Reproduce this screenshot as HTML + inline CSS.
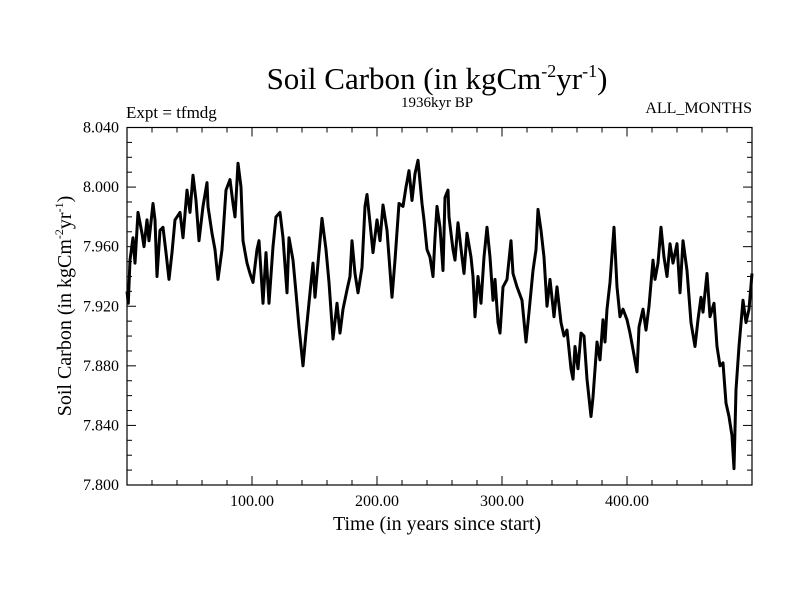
<!DOCTYPE html>
<html><head><meta charset="utf-8"><style>
body{margin:0;background:#fff}
svg text{font-family:"Liberation Serif",serif;fill:#000}
</style></head><body>
<svg id="chart" width="800" height="600" xmlns="http://www.w3.org/2000/svg">
<text x="437" y="89" font-size="31" text-anchor="middle">Soil Carbon (in kgCm<tspan font-size="18" dy="-12">-2</tspan><tspan dy="12">yr</tspan><tspan font-size="18" dy="-12">-1</tspan><tspan dy="12">)</tspan></text>
<text x="126" y="118" font-size="17">Expt = tfmdg</text>
<text x="437" y="107" font-size="15" text-anchor="middle">1936kyr BP</text>
<text x="752" y="113" font-size="16" text-anchor="end">ALL_MONTHS</text>
<text x="437" y="530" font-size="20" text-anchor="middle">Time (in years since start)</text>
<text transform="translate(71,306) rotate(-90)" font-size="20" text-anchor="middle">Soil Carbon (in kgCm<tspan font-size="12" dy="-8">-2</tspan><tspan dy="8">yr</tspan><tspan font-size="12" dy="-8">-1</tspan><tspan dy="8">)</tspan></text>
<g id="axes"></g>
<path id="series" fill="none" stroke="#000" stroke-width="3" stroke-linejoin="round"/>
<rect x="127" y="127.5" width="625" height="357.5" fill="none" stroke="#000" stroke-width="1.2"/>
</svg>
<script>
const years=[0,1,2.4,4.8,6.4,8.8,12,13.6,16,17.6,20.8,22.4,24,26.4,28.8,31.2,33.6,36,38.4,42.4,44.8,48,50.4,52.8,55.2,57.6,60.8,64,64.8,68,70.4,72.8,76,79.2,82.4,84.8,86.4,88.8,91.2,92.8,96,98.4,100.8,104,105.6,108.8,111.2,113.6,116.8,119.2,122.4,124.8,128,129.6,132.8,135.2,137.6,140.8,143.2,146.4,148.8,150.4,152.8,156,159.2,161.6,164.8,168,170.4,172.8,176,178.4,180,182.4,184.8,188,190.4,192,194.4,196.8,200,202.4,204.8,208,212,214.4,217.6,220.8,223.2,225.6,228,230.4,232.8,236,237.6,240,242.4,244.8,246.4,248,250.4,252.8,254.4,256.8,257.6,260.8,262.4,264.8,268,269.6,272,275.2,276.8,278.4,280.8,283.2,285.6,288,290.4,292.8,294.4,296.8,298.4,300.8,304,307.2,308.8,312,316,319.2,321.6,324.8,327.2,328.8,331.2,333.6,336,338.4,341.6,344,347.2,349.6,352,355.2,356.8,358.4,360.8,363.2,365.6,368,371.2,372.8,376,378.4,380.8,382.4,384,386.4,389.6,392,394.4,396.8,400,402.4,404.8,408,409.6,412.8,415.2,417.6,420.8,422.4,424.8,427.2,429.6,432,434.4,436.8,440,442.4,444.8,448,451.2,454.4,456.8,459.2,460.8,464,466.4,469.6,472,474.4,476.8,479.2,481.6,484,485.6,487.2,489.6,492.8,495.2,497.6,500];
const values=[7.930,7.922,7.951,7.966,7.949,7.983,7.969,7.960,7.978,7.964,7.989,7.978,7.940,7.971,7.973,7.956,7.938,7.956,7.978,7.983,7.966,7.998,7.983,8.008,7.991,7.964,7.987,8.003,7.987,7.969,7.958,7.938,7.958,7.998,8.005,7.989,7.980,8.016,8.000,7.964,7.949,7.942,7.936,7.958,7.964,7.922,7.956,7.922,7.960,7.980,7.983,7.966,7.929,7.966,7.951,7.929,7.906,7.880,7.902,7.929,7.949,7.926,7.949,7.979,7.958,7.936,7.898,7.922,7.902,7.918,7.931,7.940,7.964,7.942,7.929,7.946,7.987,7.995,7.976,7.956,7.978,7.964,7.988,7.971,7.926,7.951,7.989,7.987,8.000,8.011,7.991,8.009,8.018,7.989,7.978,7.958,7.953,7.940,7.966,7.987,7.973,7.944,7.993,7.998,7.980,7.958,7.951,7.976,7.953,7.942,7.969,7.953,7.940,7.913,7.940,7.922,7.953,7.973,7.953,7.924,7.938,7.909,7.902,7.933,7.938,7.964,7.942,7.933,7.924,7.896,7.916,7.944,7.958,7.985,7.971,7.953,7.920,7.938,7.913,7.933,7.909,7.900,7.904,7.878,7.871,7.893,7.878,7.902,7.900,7.871,7.846,7.859,7.896,7.884,7.911,7.896,7.918,7.936,7.973,7.933,7.913,7.918,7.911,7.902,7.891,7.876,7.906,7.918,7.904,7.920,7.951,7.938,7.949,7.973,7.953,7.940,7.962,7.949,7.962,7.929,7.964,7.944,7.909,7.893,7.911,7.926,7.916,7.942,7.913,7.922,7.893,7.880,7.882,7.855,7.846,7.833,7.811,7.864,7.893,7.924,7.909,7.918,7.942];
const xTickLabels=["100.00","200.00","300.00","400.00"];
const xTickValues=[100,200,300,400];
const yTickLabels=["7.800","7.840","7.880","7.920","7.960","8.000","8.040"];
const yTickValues=[7.80,7.84,7.88,7.92,7.96,8.00,8.04];

const L=127,R=752,T=127.5,B=485,X0=0,X1=500,Y0=7.80,Y1=8.04;
const sx=v=>L+(v-X0)/(X1-X0)*(R-L);
const sy=v=>B-(v-Y0)/(Y1-Y0)*(B-T);
const NS="http://www.w3.org/2000/svg";
const axes=document.getElementById('axes');
function line(x1,y1,x2,y2,name){const l=document.createElementNS(NS,'line');
l.setAttribute('x1',x1);l.setAttribute('y1',y1);l.setAttribute('x2',x2);l.setAttribute('y2',y2);
l.setAttribute('stroke','#000');l.setAttribute('stroke-width','1');


axes.appendChild(l);}
for(let v=0;v<=500;v+=20){const x=sx(v);const len=(v%100===0)?9:5;
line(x,B,x,B-len,'x-tick');line(x,T,x,T+len,'x-tick-top');}
for(let i=0;i<=24;i++){const v=Y0+i*0.01;const y=sy(v);const len=(i%4===0)?9:5;
line(L,y,L+len,y,'y-tick');line(R,y,R-len,y,'y-tick-right');}
xTickValues.forEach((v,i)=>{const t=document.createElementNS(NS,'text');
t.setAttribute('x',sx(v));t.setAttribute('y',B+21);t.setAttribute('font-size','16');t.setAttribute('text-anchor','middle');
t.textContent=xTickLabels[i];


axes.appendChild(t);});
yTickValues.forEach((v,i)=>{const t=document.createElementNS(NS,'text');
t.setAttribute('x',L-8);t.setAttribute('y',sy(v)+5);t.setAttribute('font-size','16');t.setAttribute('text-anchor','end');
t.textContent=yTickLabels[i];


axes.appendChild(t);});
document.getElementById('series').setAttribute('d',years.map((y,i)=>(i?'L':'M')+sx(y).toFixed(1)+' '+sy(values[i]).toFixed(1)).join(' '));
</script>
</body></html>
